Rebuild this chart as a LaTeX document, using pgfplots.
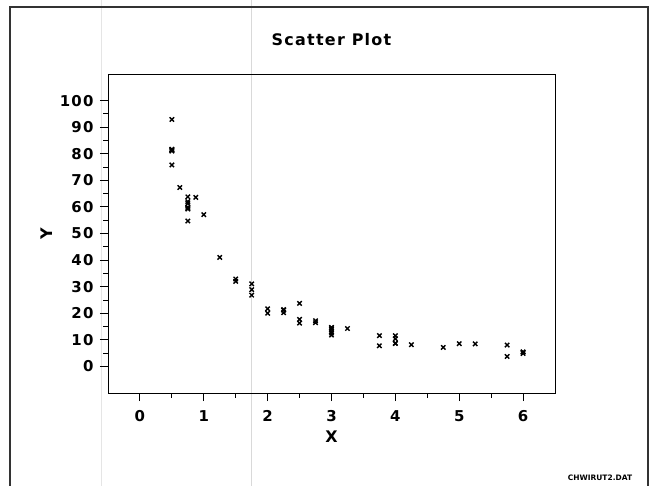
\documentclass[border=0pt]{standalone}
\usepackage{pgfplots}
\usepackage{fontspec}
\setmainfont{DejaVu Sans}
\newfontfamily\labfont[LetterSpace=8]{DejaVu Sans}
\pgfplotsset{compat=1.18}

\begin{document}
\begin{tikzpicture}
    % canvas of 651 x 486 px, 1 px = 1 bp, y grows downwards as negative
    \useasboundingbox (0,0) rectangle (651bp,-486bp);
    \fill[white] (0,0) rectangle (651bp,-486bp);

    % faint scan lines
    \draw[gray!20, line width=0.6bp] (101bp,0) -- (101bp,-486bp);
    \draw[gray!30, line width=0.6bp] (251bp,0) -- (251bp,-486bp);

    % page frame
    \draw[black!80, line width=1.3bp] (10bp,-500bp) -- (10bp,-7bp) -- (648bp,-7bp) -- (648bp,-500bp);

    \begin{axis}[
        at={(108bp,-74bp)},
        anchor=north west,
        scale only axis,
        width=447bp,
        height=319bp,
        xmin=-0.5, xmax=6.5,
        ymin=-10, ymax=110,
        xtick={0,1,...,6},
        ytick={0,10,...,100},
        minor x tick num=1,
        minor y tick num=1,
        tick align=outside,
        tick pos=left,
        major tick length=8bp,
        minor tick length=4.5bp,
        axis line style={line width=1bp},
        every tick/.style={black, line width=0.9bp},
        /pgf/number format/assume math mode=true,
        ticklabel style={font=\labfont\fontsize{15}{17}\selectfont\bfseries},
        xticklabel style={yshift=-6bp},
        yticklabel style={xshift=-3bp},
        title={Scatter Plot},
        title style={font=\labfont\fontsize{16}{18}\selectfont\bfseries, at={(0.5,1)}, anchor=center, yshift=28bp},
        xlabel={X},
        ylabel={Y},
        xlabel style={font=\labfont\fontsize{16}{18}\selectfont\bfseries, at={(axis description cs:0.5,-0.138)}, anchor=center},
        ylabel style={font=\labfont\fontsize{16}{18}\selectfont\bfseries, at={(axis description cs:-0.1365,0.5)}, anchor=center},
        clip=false
    ]
        \addplot[only marks, mark=x, mark size=3.1bp, black, mark options={line width=1.4bp}] coordinates {
            (0.500,92.9000) (1.000,57.1000) (1.750,31.0500) (3.750,11.5875)
            (5.750,8.0250)  (0.875,63.6000) (2.250,21.4000) (3.250,14.2500)
            (5.250,8.4750)  (0.750,63.8000) (1.750,26.8000) (2.750,16.4625)
            (4.750,7.1250)  (0.625,67.3000) (1.250,41.0000) (2.250,21.1500)
            (4.250,8.1750)  (0.500,81.5000) (3.000,13.1200) (0.750,59.9000)
            (3.000,14.6200) (1.500,32.9000) (6.000,5.4400)  (3.000,12.5600)
            (6.000,5.4400)  (1.500,32.0000) (3.000,13.9500) (0.500,75.8000)
            (2.000,20.0000) (4.000,10.4200) (0.750,59.5000) (2.000,21.6700)
            (5.000,8.5500)  (0.750,62.0000) (2.250,20.2000) (3.750,7.7600)
            (5.750,3.7500)  (3.000,11.8100) (0.750,54.7000) (2.500,23.7000)
            (4.000,11.5500) (0.750,61.3000) (2.500,17.7000) (4.000,8.7400)
            (0.750,59.2000) (2.500,16.3000) (4.000,8.6200)  (0.500,81.0000)
            (6.000,4.8700)  (3.000,14.6200) (0.500,81.7000) (2.750,17.1700)
            (0.500,81.3000) (1.750,28.9000)
        };
    \end{axis}

    \node[font=\fontsize{7.5}{9}\selectfont\bfseries] at (600bp,-478bp) {CHWIRUT2.DAT};
\end{tikzpicture}
\end{document}
